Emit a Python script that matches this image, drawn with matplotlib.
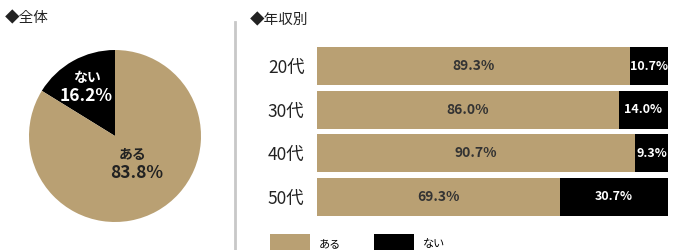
import numpy as np
import matplotlib
matplotlib.use("Agg")
import matplotlib.pyplot as plt

plt.rcParams['font.family'] = ['Noto Sans CJK JP', 'DejaVu Sans']

# data
pie_labels = ['ない', 'ある']
pie_values = [16.2, 83.8]

groups = ['20代', '30代', '40代', '50代']
aru = [89.3, 86.0, 90.7, 69.3]
nai = [10.7, 14.0, 9.3, 30.7]

TAN = '#B9A073'
BLACK = '#000000'

W, H = 677, 250
fig = plt.figure(figsize=(W / 100, H / 100), dpi=100)

# titles
fig.text(5 / W, 1 - 18 / H, '◆全体', fontsize=10.5, va='center', ha='left', color='#222222')
fig.text(250 / W, 1 - 20 / H, '◆年収別', fontsize=10.5, va='center', ha='left', color='#222222')

# divider
fig.add_artist(plt.Line2D([235 / W, 235 / W], [0, 1 - 22 / H], transform=fig.transFigure,
                          color='#C8C8C8', lw=2))

# pie
ax1 = fig.add_axes([29 / W, 1 - 222 / H, 172 / W, 172 / H])
ax1.pie(pie_values, colors=[BLACK, TAN], startangle=90, counterclock=True,
        radius=1.0, wedgeprops=dict(linewidth=0))
ax1.set_xlim(-1, 1)
ax1.set_ylim(-1, 1)
ax1.set_aspect('equal')
ax1.text(-0.33, 0.67, pie_labels[0], color='white', fontsize=10, fontweight='bold',
         ha='center', va='center')
ax1.text(-0.33, 0.46, f'{pie_values[0]:.1f}%', color='white', fontsize=12.5, fontweight='bold',
         ha='center', va='center')
ax1.text(0.21, -0.22, pie_labels[1], color='#222222', fontsize=10, fontweight='bold',
         ha='center', va='center')
ax1.text(0.25, -0.43, f'{pie_values[1]:.1f}%', color='#222222', fontsize=12.5, fontweight='bold',
         ha='center', va='center')

# stacked bars
ax2 = fig.add_axes([317 / W, 1 - 216 / H, 351 / W, 169 / H])
y = np.arange(len(groups))
bh = 0.875
b1 = ax2.barh(y, aru, height=bh, color=TAN, label='ある')
b2 = ax2.barh(y, nai, left=aru, height=bh, color=BLACK, label='ない')
ax2.bar_label(b1, labels=[f'{v:.1f}%' for v in aru], label_type='center',
              fontsize=10, fontweight='bold', color='#333333')
ax2.bar_label(b2, labels=[f'{v:.1f}%' for v in nai], label_type='center',
              fontsize=9, fontweight='bold', color='white')
ax2.set_xlim(0, 100)
ax2.set_ylim(len(groups) - 1 + bh / 2, -bh / 2)
ax2.set_yticks(y)
ax2.set_yticklabels(groups, fontsize=12.5, color='#222222')
ax2.tick_params(axis='y', length=0, pad=9)
ax2.set_xticks([])
for s in ax2.spines.values():
    s.set_visible(False)

fig.legend(handles=[b1, b2], loc='upper left', bbox_to_anchor=(270 / W, 1 - 234 / H),
           ncol=2, frameon=False, fontsize=8, handlelength=3.6, handleheight=2.2,
           handletextpad=0.8, columnspacing=3.0, borderpad=0, borderaxespad=0)

fig.savefig('out.png', dpi=100)
